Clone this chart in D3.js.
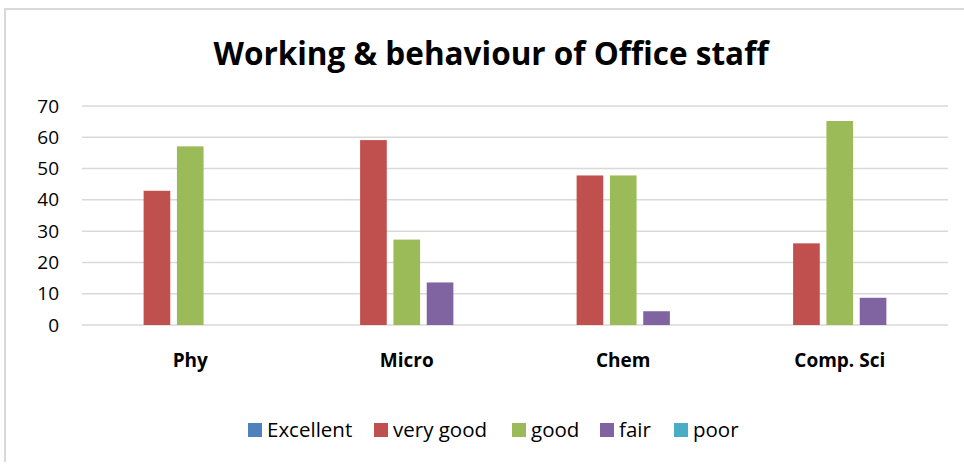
<!DOCTYPE html>
<html>
<head>
<meta charset="utf-8">
<script src="https://cdn.jsdelivr.net/npm/d3@7"></script>
<style>
  body { margin: 0; background: #fff; }
  svg { display: block; font-family: "Open Sans", "Liberation Sans", sans-serif; }
</style>
</head>
<body>
<div id="chart"></div>
<script>
// data (percent of responses)
var categories = ["Phy", "Micro", "Chem", "Comp. Sci"]
var seriesNames = ["Excellent", "very good", "good", "fair", "poor"]
var seriesColors = ["#4f81bd", "#c0504d", "#9bbb59", "#8064a2", "#4bacc6"]
var excellent = [0, 0, 0, 0]
var veryGood = [42.9, 59.1, 47.8, 26.1]
var good = [57.1, 27.3, 47.8, 65.2]
var fair = [0, 13.6, 4.4, 8.7]
var poor = [0, 0, 0, 0]
var yTicks = [0, 10, 20, 30, 40, 50, 60, 70]

var seriesValues = [excellent, veryGood, good, fair, poor]

var width = 964, height = 466
var margin = {top: 106, right: 16, bottom: 141, left: 82}

var svg = d3.select("#chart").append("svg")
    .attr("width", width)
    .attr("height", height)

// chart frame
svg.append("path")
    .attr("d", "M5,462 V9 H964")
    .attr("fill", "none")
    .attr("stroke", "#d9d9d9")
    .attr("stroke-width", 2)

svg.append("text")
    .attr("x", 491)
    .attr("y", 65)
    .attr("text-anchor", "middle")
    .style("font-size", "31.5px")
    .style("font-weight", "bold")
    .attr("fill", "#000")
    .text("Working & behaviour of Office staff")

var x0 = d3.scaleBand()
    .domain(categories)
    .range([margin.left, width - margin.right])
    .padding(0)

var x1 = d3.scaleBand()
    .domain(seriesNames)
    .range([0, x0.bandwidth()])
    .paddingInner(0.2)
    .paddingOuter(0.85)

var y = d3.scaleLinear()
    .domain([0, 70])
    .range([height - margin.bottom, margin.top])

// gridlines
svg.append("g")
    .selectAll("line")
    .data(yTicks)
    .enter().append("line")
    .attr("x1", margin.left)
    .attr("x2", width - margin.right)
    .attr("y1", d => y(d))
    .attr("y2", d => y(d))
    .attr("stroke", "#d9d9d9")
    .attr("stroke-width", 1.5)

// y axis labels
var yAxis = d3.axisLeft(y).tickValues(yTicks).tickSize(0).tickPadding(23)
var gy = svg.append("g")
    .attr("transform", "translate(" + margin.left + ",0)")
    .call(yAxis)
gy.select(".domain").remove()
gy.selectAll("text")
    .style("font-size", "19px")
    .style("font-family", "'Open Sans', sans-serif")
    .attr("fill", "#000")

// bars
var groups = svg.append("g")
    .selectAll("g")
    .data(categories)
    .enter().append("g")
    .attr("transform", d => "translate(" + x0(d) + ",0)")

groups.selectAll("rect")
    .data((c, i) => seriesNames.map((s, j) => ({series: s, color: seriesColors[j], value: seriesValues[j][i]})))
    .enter().append("rect")
    .attr("x", d => x1(d.series))
    .attr("width", x1.bandwidth())
    .attr("y", d => y(d.value))
    .attr("height", d => y(0) - y(d.value))
    .attr("fill", d => d.color)

// category labels
var xAxis = d3.axisBottom(x0).tickSize(0).tickPadding(29)
var gx = svg.append("g")
    .attr("transform", "translate(0," + y(0) + ")")
    .call(xAxis)
gx.select(".domain").remove()
gx.selectAll("text")
    .style("font-size", "19px")
    .style("font-weight", "bold")
    .style("font-family", "'Open Sans', sans-serif")
    .attr("fill", "#000")

// legend
var legendX = [248, 374, 512, 600, 674]
var legend = svg.append("g")
    .selectAll("g")
    .data(seriesNames)
    .enter().append("g")
    .attr("transform", (d, i) => "translate(" + legendX[i] + ",423)")

legend.append("rect")
    .attr("width", 14)
    .attr("height", 14)
    .attr("fill", (d, i) => seriesColors[i])

legend.append("text")
    .attr("x", 19)
    .attr("y", 14)
    .style("font-size", "20.5px")
    .attr("fill", "#000")
    .text(d => d)
</script>
</body>
</html>
